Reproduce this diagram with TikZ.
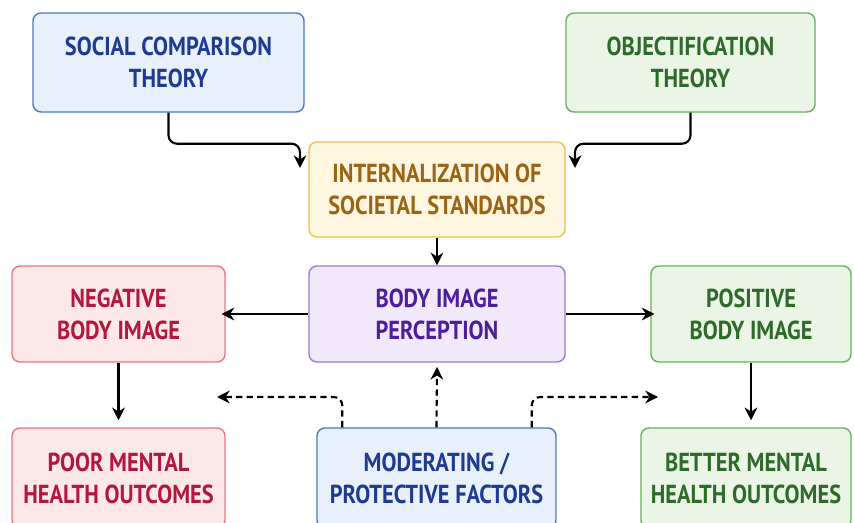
\documentclass[tikz,border=0pt]{standalone}
\usepackage{fontspec}
\setmainfont{PT Sans}[FakeStretch=0.86]
\usepackage{tikz}
\usetikzlibrary{arrows.meta}

\definecolor{bluefill}{HTML}{E8F0FC}
\definecolor{blueline}{HTML}{4A78C4}
\definecolor{bluetext}{HTML}{1F3A93}
\definecolor{greenfill}{HTML}{EAF5E6}
\definecolor{greenline}{HTML}{6AAF5C}
\definecolor{greentext}{HTML}{2E6B2A}
\definecolor{yellowfill}{HTML}{FFF6E0}
\definecolor{yellowline}{HTML}{F0C050}
\definecolor{yellowtext}{HTML}{9A6414}
\definecolor{purplefill}{HTML}{F1E9FA}
\definecolor{purpleline}{HTML}{9C7AD6}
\definecolor{purpletext}{HTML}{4B1F9B}
\definecolor{redfill}{HTML}{FDE8E8}
\definecolor{redline}{HTML}{E87878}
\definecolor{redtext}{HTML}{B3163F}

\tikzset{
  box/.style={draw, line width=1pt, rounded corners=0.2cm, align=center,
    font=\bfseries\fontsize{18.5}{22.7}\selectfont},
  bluebox/.style={box, fill=bluefill, draw=blueline, text=bluetext},
  greenbox/.style={box, fill=greenfill, draw=greenline, text=greentext},
  yellowbox/.style={box, fill=yellowfill, draw=yellowline, text=yellowtext},
  purplebox/.style={box, fill=purplefill, draw=purpleline, text=purpletext},
  redbox/.style={box, fill=redfill, draw=redline, text=redtext},
  flow/.style={line width=1.5pt, -{Stealth[length=9pt,width=9pt]}, rounded corners=6pt},
  dflow/.style={flow, dash pattern=on 4.5pt off 3pt}
}

\begin{document}
\begin{tikzpicture}[x=0.025cm, y=-0.025cm]
\useasboundingbox[fill=white] (0,0) rectangle (854,523);
% theories
\node[bluebox, minimum width=6.775cm, minimum height=2.475cm] (sct) at (168.5,62.5) {SOCIAL COMPARISON\\THEORY};
\node[greenbox, minimum width=6.225cm, minimum height=2.475cm] (obj) at (690.5,62.5) {OBJECTIFICATION\\THEORY};
% middle column
\node[yellowbox, minimum width=6.4cm, minimum height=2.375cm] (int) at (437,189.5) {INTERNALIZATION OF\\SOCIETAL STANDARDS};
\node[purplebox, minimum width=6.4cm, minimum height=2.4cm] (bip) at (437,314) {BODY IMAGE\\PERCEPTION};
\node[bluebox, minimum width=5.975cm, minimum height=2.5cm] (mod) at (436.5,478) {MODERATING /\\PROTECTIVE FACTORS};
% sides
\node[redbox, minimum width=5.325cm, minimum height=2.4cm] (neg) at (118.5,314) {NEGATIVE\\BODY IMAGE};
\node[greenbox, minimum width=5cm, minimum height=2.4cm] (pos) at (751,314) {POSITIVE\\BODY IMAGE};
\node[redbox, minimum width=5.325cm, minimum height=2.5cm] (poor) at (118.5,478) {POOR MENTAL\\HEALTH OUTCOMES};
\node[greenbox, minimum width=5.25cm, minimum height=2.5cm] (better) at (746,478) {BETTER MENTAL\\HEALTH OUTCOMES};

\coordinate (tipL) at (300,168);
\coordinate (tipR) at (575,168);
\coordinate (modL) at (217,397);
\coordinate (modR) at (658,397);

\draw[flow] (sct.south) -- ++(0,31) -| (tipL);
\draw[flow] (obj.south) -- ++(0,31) -| (tipR);
\draw[flow] (int.south) -- (bip.north);
\draw[flow] (bip.west) -- ([xshift=-3pt]neg.east);
\draw[flow] (bip.east) -- ([xshift=3pt]pos.west);
\draw[flow] (neg.south) -- ([yshift=5pt]poor.north);
\draw[flow] (pos.south) -- ([yshift=5pt]pos.south |- better.north);
\draw[dflow] (mod.north) -- ([yshift=-3pt]bip.south);
\draw[dflow] ([xshift=0.65cm]mod.north west) |- (modL);
\draw[dflow] ([xshift=-0.625cm]mod.north east) |- (modR);
\end{tikzpicture}
\end{document}
